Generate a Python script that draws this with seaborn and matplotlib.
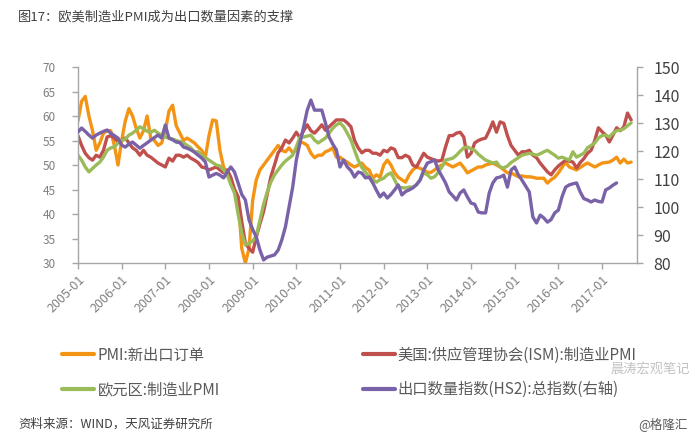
import numpy as np
import pandas as pd
import matplotlib
matplotlib.use("Agg")
import matplotlib.pyplot as plt
import seaborn as sns

# ---- data (monthly, starting 2005-01) ----
pmi_export = [59, 63, 64, 60, 57, 53, 54.5, 56.5, 57, 57, 54, 50,
              55, 59, 61.5, 60, 57.5, 55.5, 57, 60, 55.5, 55, 54, 54.5,
              57, 61, 62.2, 58, 56.5, 55, 55.5, 55, 54.5, 53.7, 53, 51.6,
              56, 59.2, 59, 53, 49.6, 48, 47, 45, 43.5, 33, 30, 33,
              42.8, 47, 49, 50, 51, 52, 53, 54, 53, 52.7, 53.5, 52.5,
              53, 54.7, 54.5, 54, 52.4, 51.5, 52, 52, 52.7, 53, 53.5, 51.6,
              51.6, 51, 50.6, 50, 49.6, 50, 50.4, 49.5, 49, 47.3, 48, 47.5,
              50, 51, 50, 48.4, 47.5, 47, 46.5, 48, 49, 49.6, 49.3, 49,
              48.5, 48.5, 49, 49.6, 50, 50.4, 50, 49.6, 50, 50.4, 49.5, 48.4,
              48.8, 49.2, 49.6, 49.6, 50, 50.2, 50.4, 50, 49.6, 49, 48.4, 48.4,
              48, 47.6, 47.8, 47.6, 47.6, 47.5, 47.3, 47.3, 47.3, 46.3, 47, 47.5,
              48.4, 49.5, 50.6, 49.6, 49.3, 49, 49.5, 50, 50.4, 50, 49.6, 50,
              50.4, 50.5, 50.6, 51, 51.6, 50.4, 51.2, 50.4, 50.6]

ism_pmi = [56, 54, 52.4, 51.5, 51, 52, 51.6, 53, 55.7, 56, 55.5, 54.7,
           55, 55.5, 54.5, 53.5, 53, 52, 53, 52, 51.6, 51, 50.4, 50,
           49.6, 51.4, 50.8, 52, 52, 51.6, 52, 51.4, 51, 50.5, 49.6, 49.4,
           49, 49.3, 49.6, 49, 48.4, 49, 47.5, 45, 43.5, 38.5, 34, 33,
           32.2, 35.3, 38, 40.5, 44, 47.6, 50, 52.5, 53.5, 55.1, 54.5, 55.5,
           56.7, 55.5, 57, 58.2, 57, 56.5, 57.3, 58.2, 57.1, 57.8, 58.5, 59.2,
           59.2, 59.2, 58.6, 57.8, 55, 53.5, 52.5, 53, 53, 52.4, 52.4, 52,
           53, 52.7, 53.5, 53.2, 51.5, 51.5, 52, 51.6, 50, 49.6, 51, 52.4,
           51.6, 51.3, 51, 50.8, 51, 53.7, 56, 56, 56.5, 56.7, 55.7, 51.6,
           52.4, 54.5, 55, 55.3, 55.5, 57, 58.8, 56.7, 58.8, 58.5, 56, 54,
           53, 52, 52.7, 52.7, 53, 52, 51.5, 50.4, 49.5, 48.6, 48, 49,
           49.8, 50.4, 51, 50.8, 50.6, 49.4, 50.5, 51.3, 52.4, 53, 55, 57.6,
           56.8, 56.1, 54.7, 56.1, 57.6, 57, 57.8, 60.6, 59.2]

euro_pmi = [52, 51, 49.6, 48.6, 49.3, 50, 50.6, 51.6, 53, 53.5, 53.7, 54.5,
            55, 55.3, 56.1, 56.5, 57.1, 57.8, 57.4, 56.9, 56.7, 57.1, 56.5, 56.1,
            55.7, 55.5, 55.3, 55, 54.8, 54.5, 54, 53.5, 52.7, 52.7, 52, 51.5,
            51, 50.5, 50, 49.8, 49, 48, 46, 44.3, 40, 36.1, 33.7, 34,
            34.5, 35.5, 38.8, 42, 44.5, 46.5, 48, 49, 50, 50.8, 51.4, 52,
            53.7, 55.7, 55.7, 55.9, 56.1, 55.1, 54.5, 55, 55.5, 56.5, 57.5, 58.2,
            58.6, 57.8, 56.5, 55.1, 53, 51, 49.5, 48.6, 47.5, 47, 46.5, 47,
            47.3, 48, 48.4, 47, 45.5, 45.4, 45.3, 45.5, 45.5, 45.9, 47, 48.4,
            48, 47.3, 47.6, 48.5, 49.6, 51, 51.2, 51.4, 52, 52.8, 53.5, 53.7,
            53.3, 53, 52.2, 51.6, 51, 50.7, 50.4, 50.6, 49.6, 49.4, 49.8, 50.5,
            51, 51.5, 52, 52.2, 52.4, 52.2, 52, 52.3, 52.7, 53, 52.5, 52,
            51.4, 51.6, 51.3, 51, 52.7, 51.6, 52, 52.4, 53.5, 54, 54.5, 55.5,
            56, 56.1, 55.7, 56.5, 57, 57.1, 57.4, 58, 58.6]

export_volume = [126.8, 128.2, 127, 125.7, 124.6, 125.7, 126.4, 127, 127.5, 126.4, 125.5, 124.6,
                 122.1, 121.4, 122.5, 123.2, 122.1, 121, 122, 122.9, 123.9, 124.8, 125.7, 124.6,
                 129.3, 124.6, 124, 123.2, 123, 121.4, 121, 120.4, 119.6, 118.5, 117.5, 116.1,
                 110.7, 111.4, 112, 111.4, 110.4, 112.5, 114.3, 112.5, 108.6, 104.5, 102.5, 95.4,
                 92, 89.3, 84.6, 81.1, 82.1, 82.5, 82.9, 84.6, 88.2, 92.9, 100, 107.1,
                 116.8, 122.9, 128.6, 134.6, 138.2, 134.6, 134.6, 134.6, 130, 125, 122.5, 120.4,
                 114.3, 116.8, 114.3, 113, 110.7, 112.5, 112.1, 110.4, 110.7, 108.6, 106, 103.6,
                 105, 103.2, 104.5, 106.1, 107.9, 104.3, 105.5, 106.1, 106.8, 108, 109.6, 113.2,
                 115.7, 116.2, 116.8, 113.2, 111, 108.6, 105.4, 104, 102.5, 105, 106.1, 103.6,
                 101.4, 101, 98.2, 97.9, 97.9, 105, 108.6, 110.4, 110.7, 111.4, 107.1, 113.2,
                 114.3, 111.5, 109.6, 107.5, 105.4, 96.4, 94.3, 97.1, 96.1, 94.6, 95.5, 97.9,
                 98.9, 103.6, 107.1, 107.9, 108.3, 108.6, 105.4, 103, 102.5, 101.8, 102.5, 102,
                 101.8, 106.1, 106.8, 107.8, 108.6]

year_labels = ["2005-01", "2006-01", "2007-01", "2008-01", "2009-01", "2010-01",
               "2011-01", "2012-01", "2013-01", "2014-01", "2015-01", "2016-01", "2017-01"]

series_names = ["PMI:新出口订单", "美国:供应管理协会(ISM):制造业PMI",
                "欧元区:制造业PMI", "出口数量指数(HS2):总指数(右轴)"]
series_colors = ["#F39414", "#C0504D", "#9BBB59", "#7A62A8"]

title_text = "图17：欧美制造业PMI成为出口数量因素的支撑"
source_text = "资料来源：WIND，天风证券研究所"
credit_text = "@格隆汇"
watermark_text = "晨涛宏观笔记"

# ---- styling ----
sns.set_theme(style="white")
plt.rcParams["font.family"] = ["Noto Sans CJK SC", "DejaVu Sans"]

fig = plt.figure(figsize=(6.95, 4.38), dpi=100)
ax = fig.add_axes([0.1122, 0.3995, 0.8043, 0.4475])
ax2 = ax.twinx()

lw = 2.4
left_series = [(pmi_export, 0), (ism_pmi, 1), (euro_pmi, 2)]
for vals, i in left_series:
    df = pd.DataFrame({"m": np.arange(len(vals)), "v": vals})
    sns.lineplot(data=df, x="m", y="v", ax=ax, color=series_colors[i],
                 linewidth=lw, label=series_names[i], legend=False)
dfp = pd.DataFrame({"m": np.arange(len(export_volume)), "v": export_volume})
sns.lineplot(data=dfp, x="m", y="v", ax=ax2, color=series_colors[3],
             linewidth=lw, label=series_names[3], legend=False)

ax.set_xlim(0, 153.6)
ax.set_ylim(30, 70)
ax2.set_ylim(80, 150)
ax.set_yticks(np.arange(30, 71, 5))
ax2.set_yticks(np.arange(80, 151, 10))
ax.set_xticks(np.arange(len(year_labels)) * 12)
ax.set_xticklabels(year_labels, rotation=45, ha="right", rotation_mode="anchor")
ax.set_xlabel("")
ax.set_ylabel("")
ax2.set_ylabel("")

axis_grey = "#A6A6A6"
for s in ["top", "right"]:
    ax.spines[s].set_visible(False)
for s in ["left", "bottom"]:
    ax.spines[s].set_color(axis_grey)
    ax.spines[s].set_linewidth(1.0)
for s in ["top", "left", "bottom"]:
    ax2.spines[s].set_visible(False)
ax2.spines["right"].set_color(axis_grey)
ax2.spines["right"].set_linewidth(1.0)

ax.tick_params(axis="y", which="major", direction="out", length=4, width=1,
               color=axis_grey, labelcolor="#7F7F7F", labelsize=8.5, pad=12,
               left=True)
ax.tick_params(axis="x", which="major", direction="out", length=4, width=1,
               color=axis_grey, labelcolor="#7F7F7F", labelsize=9, pad=3,
               bottom=True)
ax2.tick_params(axis="y", which="major", direction="out", length=4, width=1,
                color=axis_grey, labelcolor="#404040", labelsize=11.5, pad=8,
                right=True)
ax.grid(False)
ax2.grid(False)

# legend
h1, l1 = ax.get_legend_handles_labels()
h2, l2 = ax2.get_legend_handles_labels()
handles = [h1[0], h1[2], h1[1], h2[0]]
labels = [l1[0], l1[2], l1[1], l2[0]]
leg = fig.legend(handles, labels, loc="upper left", bbox_to_anchor=(0.07, 0.24),
                 ncol=2, frameon=False, fontsize=11, handlelength=2.1,
                 handletextpad=0.2, columnspacing=9.35, labelspacing=1.15,
                 labelcolor="#595959")
for line in leg.get_lines():
    line.set_linewidth(3)

fig.text(0.026, 0.961, title_text, fontsize=9.5, color="#404040", va="center", ha="left")
fig.text(0.026, 0.032, source_text, fontsize=9, color="#404040", va="center", ha="left")
fig.text(0.99, 0.032, credit_text, fontsize=9, color="#595959", va="center", ha="right")
fig.text(0.993, 0.157, watermark_text, fontsize=9.5, color="#9a9a9a", alpha=0.6,
         va="center", ha="right")

fig.savefig("out.png", dpi=100)
